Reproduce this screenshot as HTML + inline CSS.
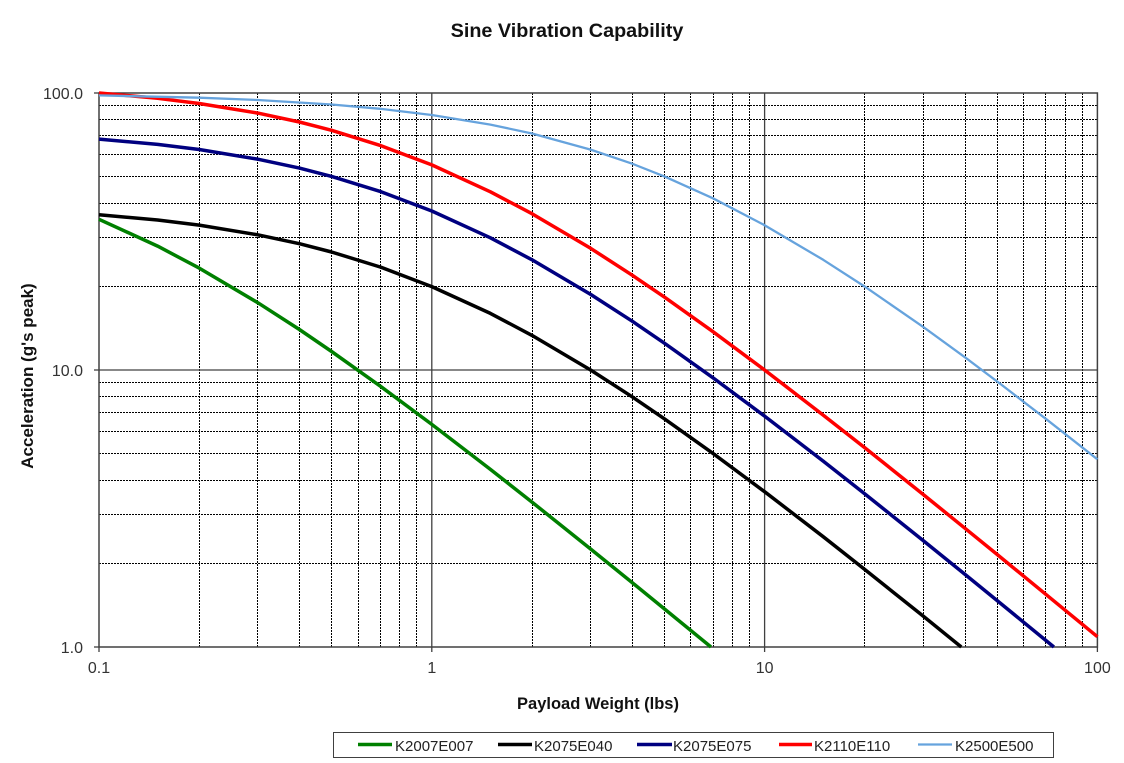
<!DOCTYPE html>
<html>
<head>
<meta charset="utf-8">
<style>
  html, body { margin: 0; padding: 0; background: #ffffff; }
  svg { display: block; }
  text { font-family: "Liberation Sans", Arial, sans-serif; }
</style>
</head>
<body>
<svg width="1124" height="763" viewBox="0 0 1124 763" xmlns="http://www.w3.org/2000/svg">
  <rect x="0" y="0" width="1124" height="763" fill="#ffffff"/>

  <!-- Title -->
  <text x="567" y="37" font-size="19.8" font-weight="bold" fill="#111" text-anchor="middle">Sine Vibration Capability</text>

  <!-- Minor grid (dotted) -->
  <g stroke="#000000" stroke-width="1" stroke-dasharray="2 1" fill="none" shape-rendering="crispEdges">
    <!-- vertical minor -->
    <line x1="199.5" y1="93" x2="199.5" y2="647"/>
    <line x1="257.5" y1="93" x2="257.5" y2="647"/>
    <line x1="299.5" y1="93" x2="299.5" y2="647"/>
    <line x1="331.5" y1="93" x2="331.5" y2="647"/>
    <line x1="358.5" y1="93" x2="358.5" y2="647"/>
    <line x1="380.5" y1="93" x2="380.5" y2="647"/>
    <line x1="399.5" y1="93" x2="399.5" y2="647"/>
    <line x1="416.5" y1="93" x2="416.5" y2="647"/>
    <line x1="532.5" y1="93" x2="532.5" y2="647"/>
    <line x1="590.5" y1="93" x2="590.5" y2="647"/>
    <line x1="632.5" y1="93" x2="632.5" y2="647"/>
    <line x1="664.5" y1="93" x2="664.5" y2="647"/>
    <line x1="690.5" y1="93" x2="690.5" y2="647"/>
    <line x1="713.5" y1="93" x2="713.5" y2="647"/>
    <line x1="732.5" y1="93" x2="732.5" y2="647"/>
    <line x1="749.5" y1="93" x2="749.5" y2="647"/>
    <line x1="864.5" y1="93" x2="864.5" y2="647"/>
    <line x1="923.5" y1="93" x2="923.5" y2="647"/>
    <line x1="965.5" y1="93" x2="965.5" y2="647"/>
    <line x1="997.5" y1="93" x2="997.5" y2="647"/>
    <line x1="1023.5" y1="93" x2="1023.5" y2="647"/>
    <line x1="1045.5" y1="93" x2="1045.5" y2="647"/>
    <line x1="1065.5" y1="93" x2="1065.5" y2="647"/>
    <line x1="1082.5" y1="93" x2="1082.5" y2="647"/>
    <!-- horizontal minor -->
    <line x1="99" y1="563.5" x2="1097.4" y2="563.5"/>
    <line x1="99" y1="514.5" x2="1097.4" y2="514.5"/>
    <line x1="99" y1="480.5" x2="1097.4" y2="480.5"/>
    <line x1="99" y1="453.5" x2="1097.4" y2="453.5"/>
    <line x1="99" y1="431.5" x2="1097.4" y2="431.5"/>
    <line x1="99" y1="412.5" x2="1097.4" y2="412.5"/>
    <line x1="99" y1="396.5" x2="1097.4" y2="396.5"/>
    <line x1="99" y1="382.5" x2="1097.4" y2="382.5"/>
    <line x1="99" y1="286.5" x2="1097.4" y2="286.5"/>
    <line x1="99" y1="237.5" x2="1097.4" y2="237.5"/>
    <line x1="99" y1="203.5" x2="1097.4" y2="203.5"/>
    <line x1="99" y1="176.5" x2="1097.4" y2="176.5"/>
    <line x1="99" y1="154.5" x2="1097.4" y2="154.5"/>
    <line x1="99" y1="135.5" x2="1097.4" y2="135.5"/>
    <line x1="99" y1="119.5" x2="1097.4" y2="119.5"/>
    <line x1="99" y1="105.5" x2="1097.4" y2="105.5"/>
  </g>

  <!-- Major grid (solid) -->
  <g stroke="#404040" stroke-width="1.3" fill="none">
    <line x1="431.8" y1="93" x2="431.8" y2="647"/>
    <line x1="764.6" y1="93" x2="764.6" y2="647"/>
    <line x1="99" y1="370" x2="1097.4" y2="370"/>
  </g>

  <!-- Plot border -->
  <rect x="99" y="93" width="998.4" height="554" fill="none" stroke="#404040" stroke-width="1.5"/>

  <!-- Ticks -->
  <g stroke="#404040" stroke-width="1.3">
    <line x1="94" y1="93" x2="99" y2="93"/>
    <line x1="94" y1="370" x2="99" y2="370"/>
    <line x1="94" y1="647" x2="99" y2="647"/>
    <line x1="99" y1="647" x2="99" y2="652"/>
    <line x1="431.8" y1="647" x2="431.8" y2="652"/>
    <line x1="764.6" y1="647" x2="764.6" y2="652"/>
    <line x1="1097.4" y1="647" x2="1097.4" y2="652"/>
  </g>

  <!-- Y tick labels -->
  <g font-size="16" fill="#333" text-anchor="end">
    <text x="83" y="99">100.0</text>
    <text x="83" y="376">10.0</text>
    <text x="83" y="653">1.0</text>
  </g>
  <!-- X tick labels -->
  <g font-size="16" fill="#333" text-anchor="middle">
    <text x="99" y="673">0.1</text>
    <text x="431.8" y="673">1</text>
    <text x="764.6" y="673">10</text>
    <text x="1097.4" y="673">100</text>
  </g>

  <!-- Axis titles -->
  <text x="598" y="709" font-size="16.5" font-weight="bold" fill="#111" text-anchor="middle">Payload Weight (lbs)</text>
  <text transform="translate(33,376) rotate(-90)" font-size="17" font-weight="bold" fill="#111" text-anchor="middle">Acceleration (g's peak)</text>

  <!-- Series -->
  <g fill="none" stroke-linejoin="round" stroke-linecap="butt">
    <polyline stroke="#008000" stroke-width="3.5" points="99,219.3 157.6,246.1 199.2,268.1 257.8,302.7 299.4,329.5 331.6,351.5 380.2,386.1 431.8,424.4 490.4,469.4 532.0,502.1 590.6,549.0 632.2,582.6 664.4,608.9 711.0,647"/>
    <polyline stroke="#000000" stroke-width="3.5" points="99,214.7 157.6,220.0 199.2,225.1 257.8,234.8 299.4,243.7 331.6,252.0 380.2,267.0 431.8,286.6 490.4,313.4 532.0,335.4 590.6,370.0 632.2,396.8 664.4,418.8 713.0,453.4 764.6,491.7 823.2,536.7 864.8,569.5 923.4,616.3 961.3,647"/>
    <polyline stroke="#000080" stroke-width="3.5" points="99,139.1 157.6,144.4 199.2,149.5 257.8,159.2 299.4,168.1 331.6,176.4 380.2,191.4 431.8,211.0 490.4,237.8 532.0,259.8 590.6,294.4 632.2,321.2 664.4,343.2 713.0,377.8 764.6,416.1 823.2,461.1 864.8,493.9 923.4,540.7 965.0,574.4 997.2,600.6 1045.8,640.4 1053.9,647"/>
    <polyline stroke="#ff0000" stroke-width="3.5" points="99,93 157.6,98.3 199.2,103.5 257.8,113.1 299.4,122.0 331.6,130.3 380.2,145.4 431.8,164.9 490.4,191.8 532.0,213.7 590.6,248.3 632.2,275.2 664.4,297.1 713.0,331.7 764.6,370.0 823.2,415.1 864.8,447.8 923.4,494.6 965.0,528.3 997.2,554.5 1045.8,594.3 1097.4,636.7"/>
    <polyline stroke="#66a3dd" stroke-width="2.3" points="99,95.4 199.2,97.7 257.8,100.0 331.6,104.5 380.2,108.8 431.8,115.0 490.4,124.6 532.0,133.5 590.6,149.6 632.2,163.7 664.4,176.4 713.0,198.3 764.6,225.2 823.2,259.8 864.8,286.6 923.4,327.1 965.0,357.3 997.2,381.5 1045.8,418.8 1097.4,459.3"/>
  </g>

  <!-- Legend -->
  <rect x="333.5" y="732.5" width="720" height="25" fill="#ffffff" stroke="#404040" stroke-width="1"/>
  <g stroke-width="3.5">
    <line x1="358" y1="744.5" x2="392" y2="744.5" stroke="#008000"/>
    <line x1="498" y1="744.5" x2="532" y2="744.5" stroke="#000000"/>
    <line x1="637" y1="744.5" x2="672" y2="744.5" stroke="#000080"/>
    <line x1="779" y1="744.5" x2="812" y2="744.5" stroke="#ff0000"/>
    <line x1="918" y1="744.5" x2="952" y2="744.5" stroke="#66a3dd" stroke-width="2.3"/>
  </g>
  <g font-size="15" fill="#222">
    <text x="395" y="751">K2007E007</text>
    <text x="534" y="751">K2075E040</text>
    <text x="673" y="751">K2075E075</text>
    <text x="814" y="751">K2110E110</text>
    <text x="955" y="751">K2500E500</text>
  </g>
</svg>
</body>
</html>
